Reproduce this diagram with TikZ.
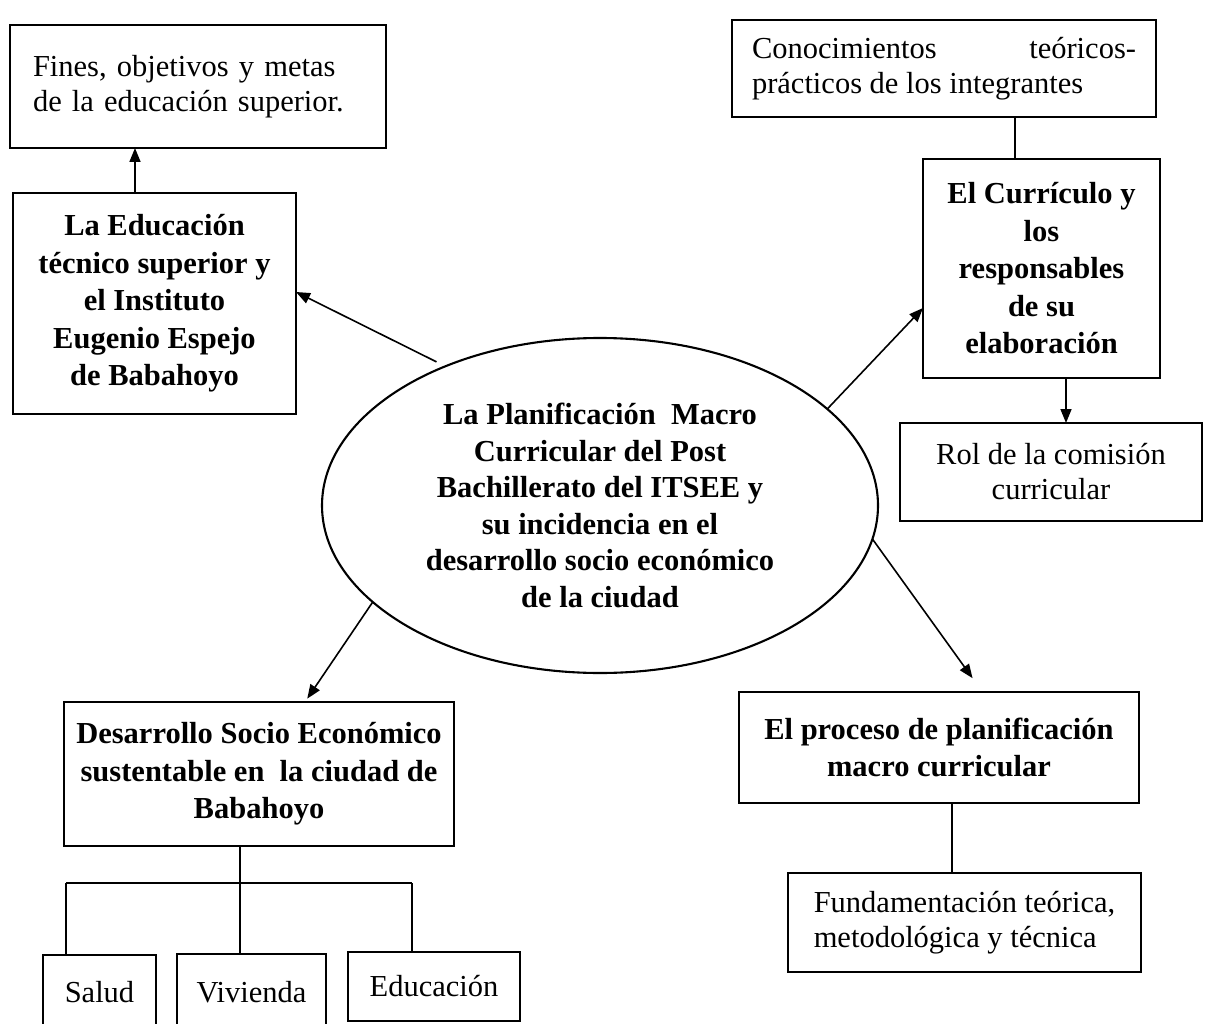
\documentclass[tikz,border=0pt]{standalone}
\usepackage{fontspec}
\setmainfont{Liberation Serif}
\usetikzlibrary{shapes.geometric,arrows.meta}
\begin{document}
\begin{tikzpicture}[x=1pt,y=-1pt,
  box/.style={draw, line width=2.1pt, rectangle, inner sep=0pt, outer sep=0pt,
    font=\fontsize{30.5}{35}\selectfont, align=center},
  bbox/.style={box, font=\fontsize{30.5}{37.5}\selectfont\bfseries},
  ln/.style={line width=1.6pt},
  arr/.style={ln, -{Triangle[length=14pt,width=11pt]}}]
\useasboundingbox (0,0) rectangle (1207,1024);

\node[box, minimum width=376pt, minimum height=123pt, text width=330pt, align=left] (fines) at (198,86.5)
  {Fines, objetivos y metas\\de la educación superior.};
\node[bbox, minimum width=283pt, minimum height=221pt] (edu) at (154.5,303.5)
  {La Educación\\técnico superior y\\el Instituto\\Eugenio Espejo\\de Babahoyo};
\node[box, minimum width=424pt, minimum height=97pt, align=left] (con) at (944,68.5)
  {\makebox[384pt]{Conocimientos\hfill teóricos-}\\prácticos de los integrantes};
\node[bbox, minimum width=237pt, minimum height=219pt] (cur) at (1041.5,268.5)
  {El Currículo y\\los\\responsables\\de su\\elaboración};
\node[box, minimum width=302pt, minimum height=98pt] (rol) at (1051,472)
  {Rol de la comisión\\curricular};
\node[ellipse, draw, line width=2.1pt, inner sep=0pt, outer sep=0pt,
  minimum width=556pt, minimum height=335pt,
  font=\fontsize{30.5}{36.6}\selectfont\bfseries, align=center] (ell) at (600,505.5)
  {La Planificación\ \ Macro\\Curricular del Post\\Bachillerato del ITSEE y\\su incidencia en el\\desarrollo socio económico\\de la ciudad};
\node[bbox, minimum width=390pt, minimum height=144pt] (des) at (259,774)
  {Desarrollo Socio Económico\\sustentable en\ \ la ciudad de\\Babahoyo};
\node[bbox, minimum width=400pt, minimum height=111pt] (pro) at (939,747.5)
  {El proceso de planificación\\macro curricular};
\node[box, minimum width=353pt, minimum height=99pt, align=left] (fun) at (964.5,922.5)
  {Fundamentación teórica,\\metodológica y técnica};
\node[box, minimum width=113pt, minimum height=75pt] (sal) at (99.5,992.5) {Salud};
\node[box, minimum width=149pt, minimum height=76pt] (viv) at (251.5,992) {Vivienda};
\node[box, minimum width=172pt, minimum height=69pt] (edb) at (434,986.5) {Educación};

\draw[arr] ([xshift=-19.5pt]edu.north) -- ([xshift=-19.5pt]edu.north |- fines.south);
\draw[arr, shorten <=10pt] (ell.138.6) -- ([yshift=11.5pt]edu.east);
\draw[arr] (ell.23.8) -- ([yshift=-39.5pt]cur.west);
\draw[ln] ([xshift=-26.5pt]cur.north) -- ([xshift=-26.5pt]cur.north |- con.south);
\draw[arr] ([xshift=24.5pt]cur.south) -- ([xshift=24.5pt]cur.south |- rol.north);
\draw[arr, shorten >=17pt] (ell.353) -- ([xshift=43.5pt]pro.north);
\draw[arr, shorten >=4pt] (ell.203) -- ([xshift=46pt]des.north);
\draw[ln] ([xshift=13pt]pro.south) -- ([xshift=13pt]pro.south |- fun.north);

\coordinate (tl) at (66,883);
\coordinate (tr) at (412,883);
\draw[ln] ([xshift=-19pt]des.south) -- ([xshift=-19pt]des.south |- viv.north);
\draw[ln] (tl) -- (tr);
\draw[ln] (tl) -- (tl |- sal.north);
\draw[ln] (tr) -- (tr |- edb.north);
\end{tikzpicture}
\end{document}
